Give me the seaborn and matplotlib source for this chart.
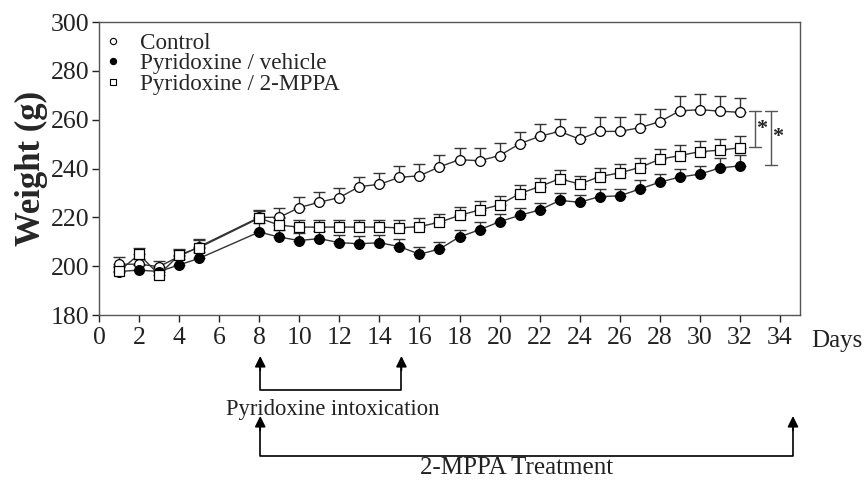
import matplotlib
matplotlib.use("Agg")
import matplotlib.pyplot as plt
import matplotlib.transforms as mtransforms
from matplotlib.lines import Line2D
import seaborn as sns
import pandas as pd
import numpy as np

days = [1, 2, 3, 4, 5, 8, 9, 10, 11, 12, 13, 14, 15, 16, 17, 18, 19, 20,
        21, 22, 23, 24, 25, 26, 27, 28, 29, 30, 31, 32]
control = [200.8, 200.8, 199.8, 204.0, 208.0, 220.0, 220.0, 224.0, 226.2, 228.1,
           232.6, 233.5, 236.4, 237.0, 240.7, 243.6, 243.2, 245.3, 250.1, 253.2,
           255.2, 252.0, 255.2, 255.2, 256.7, 259.2, 263.6, 264.1, 263.5, 263.0]
control_sem = [3.0, 2.0, 2.5, 2.5, 3.0, 3.0, 4.0, 4.5, 4.0, 4.0,
               4.0, 4.5, 4.5, 5.0, 5.0, 5.0, 5.0, 5.0, 5.0, 5.0,
               5.0, 5.0, 6.0, 6.0, 5.5, 5.0, 6.0, 6.5, 6.0, 6.0]
vehicle = [197.8, 198.4, 197.8, 200.5, 203.2, 214.0, 211.9, 210.5, 211.3, 209.6,
           209.2, 209.6, 208.0, 204.9, 207.0, 212.0, 214.9, 218.2, 220.8, 223.0,
           226.9, 226.2, 228.5, 228.8, 231.6, 234.4, 236.5, 237.7, 240.2, 241.1]
vehicle_sem = [2.0, 2.0, 2.0, 2.5, 2.5, 3.5, 3.0, 3.0, 3.0, 3.0,
               3.0, 3.0, 3.0, 3.0, 3.0, 3.0, 3.0, 3.0, 3.0, 3.0,
               3.0, 3.0, 3.0, 3.0, 3.5, 3.5, 3.5, 3.5, 4.0, 4.4]
mppa = [198.0, 204.8, 196.5, 204.6, 207.6, 219.7, 216.8, 216.0, 216.0, 216.0,
        216.0, 216.0, 215.7, 216.2, 218.0, 220.8, 223.0, 225.1, 229.7, 232.6,
        235.8, 233.6, 236.7, 238.2, 240.4, 243.8, 245.3, 246.9, 247.5, 248.5]
mppa_sem = [2.0, 2.5, 2.0, 2.5, 3.0, 3.0, 3.0, 3.0, 3.0, 3.0,
            3.0, 3.0, 3.4, 3.4, 3.5, 3.5, 3.5, 3.5, 3.5, 3.5,
            3.5, 3.5, 3.5, 3.5, 4.0, 4.0, 4.5, 4.5, 4.7, 4.8]

labels = ["Control", "Pyridoxine / vehicle", "Pyridoxine / 2-MPPA"]
x_ticks = list(range(0, 36, 2))
y_ticks = [180, 200, 220, 240, 260, 280, 300]

sns.set_style("ticks")
plt.rcParams["font.family"] = ["Liberation Serif", "DejaVu Serif"]

fig = plt.figure(figsize=(8.67, 4.8), dpi=100)
ax = fig.add_axes([99 / 867, 1 - 315 / 480, (800 - 99) / 867, (315 - 22) / 480])

line_col = "#333333"
styles = [
    dict(marker="o", mfc="white"),
    dict(marker="o", mfc="black"),
    dict(marker="s", mfc="white"),
]
series = [(control, control_sem), (vehicle, vehicle_sem), (mppa, mppa_sem)]

for (vals, sem), lab, st in zip(series, labels, styles):
    df = pd.DataFrame({"Day": days, "Weight": vals})
    ax.errorbar(days, vals, yerr=[np.zeros(len(sem)), sem], fmt="none",
                ecolor=line_col, elinewidth=1.0, capsize=4, capthick=1.0, zorder=2)
    sns.lineplot(data=df, x="Day", y="Weight", ax=ax, color=line_col, lw=1.0,
                 marker=st["marker"], markersize=7, markerfacecolor=st["mfc"],
                 markeredgecolor="black", markeredgewidth=0.9, zorder=3,
                 legend=False)

ax.set_xlim(0, 35)
ax.set_ylim(180, 300)
ax.set_xticks(x_ticks)
ax.set_yticks(y_ticks)
ax.tick_params(axis="both", direction="out", length=5, width=1, labelsize=18.5,
               colors="#222222")
ax.tick_params(axis="x", pad=4)
ax.tick_params(axis="y", pad=2)
for sp in ax.spines.values():
    sp.set_color("#555555")
    sp.set_linewidth(1.0)
ax.set_xlabel("")
ax.set_ylabel("Weight (g)", fontsize=25, fontweight="bold")
ax.yaxis.set_label_coords(-0.073, 0.5)

# legend
handles = [Line2D([], [], linestyle="none", marker=st["marker"], markersize=4.5,
                  markerfacecolor=st["mfc"], markeredgecolor="black",
                  markeredgewidth=0.8) for st in styles]
ax.legend(handles, labels, loc="upper left", frameon=False, fontsize=16.7,
          handlelength=0.8, handletextpad=0.75, labelspacing=-0.03,
          borderpad=0.1, borderaxespad=0.0, bbox_to_anchor=(0.004, 0.972))

# significance brackets
sig_col = "#555555"
for xb, ylo, yhi, xs, ys in [(32.75, 249, 263.5, 33.1, 256), (33.55, 241.5, 263.5, 33.9, 253)]:
    ax.plot([xb, xb], [ylo, yhi], color=sig_col, lw=1.0, clip_on=False)
    ax.plot([xb - 0.3, xb + 0.3], [ylo, ylo], color=sig_col, lw=1.0, clip_on=False)
    ax.plot([xb - 0.3, xb + 0.3], [yhi, yhi], color=sig_col, lw=1.0, clip_on=False)
    ax.text(xs, ys, "*", fontsize=16, fontweight="bold", ha="center", va="center",
            color="#222222")

# "Days" label
fig.text(837 / 867, 1 - 341 / 480, "Days", fontsize=18, ha="center", va="center",
         color="#222222")

# treatment arrows below the axis
tr = mtransforms.blended_transform_factory(ax.transData, fig.transFigure)

def bracket(x0, x1, y_tip, y_base, text, y_text, x_text, fs):
    ax.plot([x0, x0, x1, x1], [y_tip - 0.02, y_base, y_base, y_tip - 0.02],
            transform=tr, color="black", lw=1.2, clip_on=False)
    for xx in (x0, x1):
        ax.annotate("", xy=(xx, y_tip), xytext=(xx, y_tip - 0.03),
                    xycoords=tr, textcoords=tr,
                    arrowprops=dict(arrowstyle="-|>", color="black", lw=1.2,
                                    mutation_scale=16, shrinkA=0, shrinkB=0),
                    annotation_clip=False)
    ax.text(x_text, y_text, text, transform=tr, fontsize=fs, ha="center",
            va="center", color="#222222")

bracket(8.05, 15.1, 1 - 356 / 480, 1 - 390 / 480, "Pyridoxine intoxication",
        1 - 409 / 480, 11.66, 16.3)
bracket(8.05, 34.65, 1 - 416 / 480, 1 - 456 / 480, "2-MPPA Treatment",
        1 - 468 / 480, 20.84, 18)

fig.savefig("out.png", dpi=100)
